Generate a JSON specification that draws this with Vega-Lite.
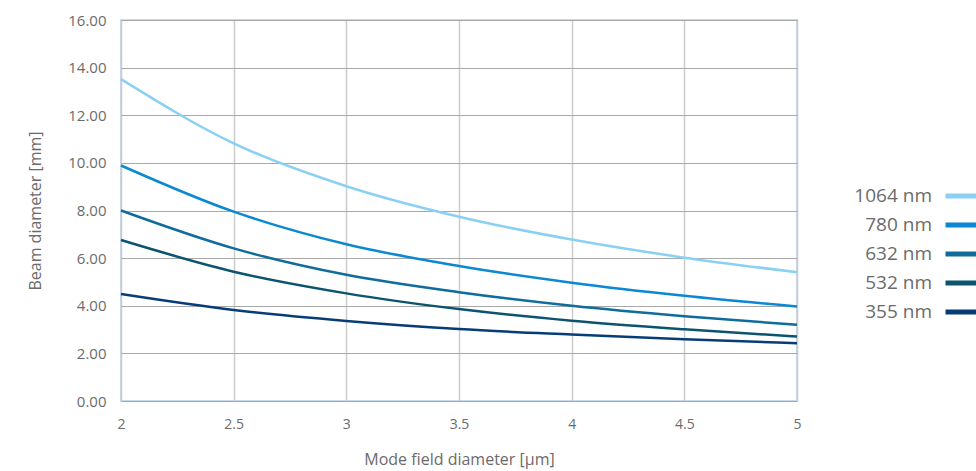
{
  "$schema": "https://vega.github.io/schema/vega-lite/v6.json",
  "width": 676,
  "height": 381,
  "autosize": {"type": "none"},
  "padding": {"left": 121, "top": 20, "right": 179, "bottom": 70},
  "background": "white",
  "config": {
    "font": "Open Sans",
    "view": {"stroke": "#c6d9ef", "strokeWidth": 2},
    "axis": {"labelColor": "#6b6b6b", "titleColor": "#6b6b6b", "titleFontWeight": "normal", "domain": false, "ticks": false}
  },
  "data": {
    "values": [
      {"mfd": 2, "series": "1064 nm", "d": 13.52}, {"mfd": 2.5, "series": "1064 nm", "d": 10.82}, {"mfd": 3, "series": "1064 nm", "d": 9.02}, {"mfd": 3.5, "series": "1064 nm", "d": 7.74}, {"mfd": 4, "series": "1064 nm", "d": 6.78}, {"mfd": 4.5, "series": "1064 nm", "d": 6.02}, {"mfd": 5, "series": "1064 nm", "d": 5.41},
      {"mfd": 2, "series": "780 nm", "d": 9.89}, {"mfd": 2.5, "series": "780 nm", "d": 7.95}, {"mfd": 3, "series": "780 nm", "d": 6.58}, {"mfd": 3.5, "series": "780 nm", "d": 5.67}, {"mfd": 4, "series": "780 nm", "d": 4.97}, {"mfd": 4.5, "series": "780 nm", "d": 4.42}, {"mfd": 5, "series": "780 nm", "d": 3.97},
      {"mfd": 2, "series": "632 nm", "d": 8.0}, {"mfd": 2.5, "series": "632 nm", "d": 6.41}, {"mfd": 3, "series": "632 nm", "d": 5.3}, {"mfd": 3.5, "series": "632 nm", "d": 4.57}, {"mfd": 4, "series": "632 nm", "d": 4.0}, {"mfd": 4.5, "series": "632 nm", "d": 3.56}, {"mfd": 5, "series": "632 nm", "d": 3.2},
      {"mfd": 2, "series": "532 nm", "d": 6.76}, {"mfd": 2.5, "series": "532 nm", "d": 5.43}, {"mfd": 3, "series": "532 nm", "d": 4.52}, {"mfd": 3.5, "series": "532 nm", "d": 3.86}, {"mfd": 4, "series": "532 nm", "d": 3.37}, {"mfd": 4.5, "series": "532 nm", "d": 3.01}, {"mfd": 5, "series": "532 nm", "d": 2.71},
      {"mfd": 2, "series": "355 nm", "d": 4.49}, {"mfd": 2.5, "series": "355 nm", "d": 3.82}, {"mfd": 3, "series": "355 nm", "d": 3.36}, {"mfd": 3.5, "series": "355 nm", "d": 3.02}, {"mfd": 4, "series": "355 nm", "d": 2.79}, {"mfd": 4.5, "series": "355 nm", "d": 2.59}, {"mfd": 5, "series": "355 nm", "d": 2.43}
    ]
  },
  "mark": {"type": "line", "strokeWidth": 2.5, "interpolate": "monotone"},
  "encoding": {
    "x": {
      "field": "mfd", "type": "quantitative",
      "scale": {"domain": [2, 5], "nice": false, "zero": false},
      "axis": {"values": [2, 2.5, 3, 3.5, 4, 4.5, 5], "format": "~g", "title": "Mode field diameter [µm]", "labelFontSize": 14, "titleFontSize": 16, "labelPadding": 16, "titlePadding": 20, "gridColor": "#cccccc", "gridWidth": 1.5, "labelFlush": false}
    },
    "y": {
      "field": "d", "type": "quantitative",
      "scale": {"domain": [0, 16], "nice": false},
      "axis": {"values": [0, 2, 4, 6, 8, 10, 12, 14, 16], "format": ".2f", "title": "Beam diameter [mm]", "labelFontSize": 15, "titleFontSize": 16, "labelPadding": 15, "titlePadding": 24, "gridColor": "#a8a8a8", "gridWidth": 1.2}
    },
    "color": {
      "field": "series", "type": "nominal",
      "scale": {
        "domain": ["1064 nm", "780 nm", "632 nm", "532 nm", "355 nm"],
        "range": ["#8ad0f3", "#0a88d3", "#0f6c9b", "#0b546f", "#073d77"]
      },
      "legend": {
        "title": null,
        "orient": "none",
        "legendX": 822,
        "legendY": 157,
        "symbolType": "stroke",
        "symbolSize": 1089,
        "symbolStrokeWidth": 5,
        "labelAlign": "right",
        "labelOffset": -49,
        "labelFontSize": 19,
        "labelColor": "#6b6b6b",
        "rowPadding": -9
      }
    }
  }
}
